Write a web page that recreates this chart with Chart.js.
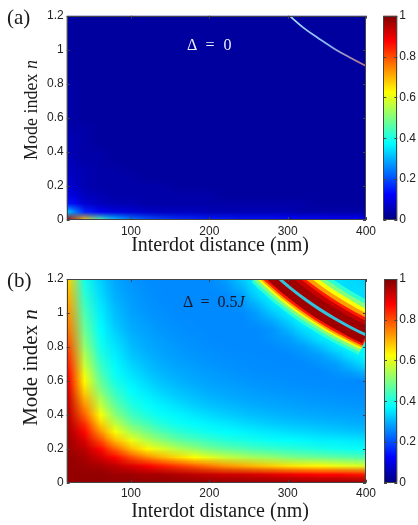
<!DOCTYPE html>
<html lang="en">
<head>
<meta charset="UTF-8">
<title>Mode index maps</title>
<script src="https://cdn.jsdelivr.net/npm/chart.js"></script>
<style>
  body { margin: 0; background: #fff; }
  #wrap { position: relative; width: 418px; height: 525px; overflow: hidden; }
  canvas { position: absolute; }
  .lbl {
    position: absolute;
    font-family: 'Liberation Serif', 'Times New Roman', serif;
    color: #1a1a1a;
    white-space: nowrap;
    line-height: 1;
  }
  .ylab { transform: rotate(-90deg); transform-origin: center center; text-align: center; }
</style>
</head>
<body>
<div id="wrap">
  <canvas id="mapA" width="380" height="245" style="left:0;top:0"></canvas>
  <canvas id="barA" width="43" height="245" style="left:375px;top:0"></canvas>
  <canvas id="mapB" width="380" height="245" style="left:0;top:262px"></canvas>
  <canvas id="barB" width="43" height="245" style="left:375px;top:262px"></canvas>

  <div class="lbl" style="left:7px;top:7px;font-size:21px">(a)</div>
  <div class="lbl" style="left:7px;top:270px;font-size:21px">(b)</div>
  <div class="lbl" style="left:187px;top:37px;font-size:16px;color:#eef0ff;word-spacing:5px">&Delta; = 0</div>
  <div class="lbl" style="left:183px;top:294px;font-size:16px;color:#161626;word-spacing:4px">&Delta; = 0.5<i>J</i></div>
  <div class="lbl" style="left:120px;width:200px;text-align:center;top:234px;font-size:20px">Interdot distance (nm)</div>
  <div class="lbl" style="left:120px;width:200px;text-align:center;top:500px;font-size:20px">Interdot distance (nm)</div>
  <div class="lbl ylab" style="left:-29px;width:120px;top:101px;font-size:18px">Mode index <i>n</i></div>
  <div class="lbl ylab" style="left:-40px;width:140px;top:357px;font-size:21px">Mode index <i>n</i></div>
</div>

<script>
// grid nodes of the two maps (cell centres)
const xNodes = [20, 40, 60, 80, 100, 120, 140, 160, 180, 200, 220, 240, 260, 280, 300, 320, 340, 360, 380, 400];
const nNodes = [0, 0.05, 0.1, 0.15, 0.2, 0.25, 0.3, 0.35, 0.4, 0.45, 0.5, 0.55, 0.6, 0.65, 0.7, 0.75, 0.8, 0.85, 0.9, 0.95, 1, 1.05, 1.1, 1.15, 1.2];

const xTicks = [100, 200, 300, 400];
const nTicks = [0, 0.2, 0.4, 0.6, 0.8, 1, 1.2];
const cbTicks = [0, 0.2, 0.4, 0.6, 0.8, 1];

// (a) Delta = 0, one row per n node, from n = 0 upwards
const mapA = [
  [0.95, 0.68, 0.45, 0.32, 0.25, 0.21, 0.19, 0.17, 0.16, 0.15, 0.15, 0.14, 0.14, 0.14, 0.13, 0.13, 0.13, 0.12, 0.12, 0.12],
  [0.3, 0.16, 0.11, 0.09, 0.08, 0.07, 0.06, 0.06, 0.06, 0.05, 0.05, 0.05, 0.05, 0.05, 0.05, 0.04, 0.04, 0.04, 0.04, 0.04],
  [0.14, 0.08, 0.06, 0.05, 0.05, 0.04, 0.04, 0.04, 0.04, 0.04, 0.04, 0.04, 0.04, 0.04, 0.04, 0.04, 0.03, 0.03, 0.03, 0.03],
  [0.1, 0.06, 0.05, 0.04, 0.04, 0.04, 0.04, 0.04, 0.04, 0.04, 0.03, 0.03, 0.03, 0.03, 0.03, 0.03, 0.03, 0.03, 0.03, 0.03],
  [0.08, 0.05, 0.04, 0.04, 0.04, 0.04, 0.04, 0.03, 0.03, 0.03, 0.03, 0.03, 0.03, 0.03, 0.03, 0.03, 0.03, 0.03, 0.03, 0.03],
  [0.07, 0.05, 0.04, 0.04, 0.04, 0.03, 0.03, 0.03, 0.03, 0.03, 0.03, 0.03, 0.03, 0.03, 0.03, 0.03, 0.03, 0.03, 0.03, 0.03],
  [0.06, 0.05, 0.04, 0.04, 0.03, 0.03, 0.03, 0.03, 0.03, 0.03, 0.03, 0.03, 0.03, 0.03, 0.03, 0.03, 0.03, 0.03, 0.03, 0.03],
  [0.06, 0.04, 0.04, 0.03, 0.03, 0.03, 0.03, 0.03, 0.03, 0.03, 0.03, 0.03, 0.03, 0.03, 0.03, 0.03, 0.03, 0.03, 0.03, 0.03],
  [0.05, 0.04, 0.04, 0.03, 0.03, 0.03, 0.03, 0.03, 0.03, 0.03, 0.03, 0.03, 0.03, 0.03, 0.03, 0.03, 0.03, 0.03, 0.03, 0.03],
  [0.05, 0.04, 0.03, 0.03, 0.03, 0.03, 0.03, 0.03, 0.03, 0.03, 0.03, 0.03, 0.03, 0.03, 0.03, 0.03, 0.03, 0.03, 0.03, 0.03],
  [0.05, 0.04, 0.03, 0.03, 0.03, 0.03, 0.03, 0.03, 0.03, 0.03, 0.03, 0.03, 0.03, 0.03, 0.03, 0.03, 0.03, 0.03, 0.03, 0.03],
  [0.04, 0.04, 0.03, 0.03, 0.03, 0.03, 0.03, 0.03, 0.03, 0.03, 0.03, 0.03, 0.03, 0.03, 0.03, 0.03, 0.03, 0.03, 0.03, 0.03],
  [0.04, 0.03, 0.03, 0.03, 0.03, 0.03, 0.03, 0.03, 0.03, 0.03, 0.03, 0.03, 0.03, 0.03, 0.03, 0.03, 0.03, 0.03, 0.03, 0.03],
  [0.04, 0.03, 0.03, 0.03, 0.03, 0.03, 0.03, 0.03, 0.03, 0.03, 0.03, 0.03, 0.03, 0.03, 0.03, 0.03, 0.03, 0.03, 0.03, 0.03],
  [0.04, 0.03, 0.03, 0.03, 0.03, 0.03, 0.03, 0.03, 0.03, 0.03, 0.03, 0.03, 0.03, 0.03, 0.03, 0.03, 0.03, 0.03, 0.03, 0.03],
  [0.04, 0.03, 0.03, 0.03, 0.03, 0.03, 0.03, 0.03, 0.03, 0.03, 0.03, 0.03, 0.03, 0.03, 0.03, 0.03, 0.03, 0.03, 0.03, 0.03],
  [0.04, 0.03, 0.03, 0.03, 0.03, 0.03, 0.03, 0.03, 0.03, 0.03, 0.03, 0.03, 0.03, 0.03, 0.03, 0.03, 0.03, 0.03, 0.03, 0.03],
  [0.03, 0.03, 0.03, 0.03, 0.03, 0.03, 0.03, 0.03, 0.03, 0.03, 0.03, 0.03, 0.03, 0.03, 0.03, 0.03, 0.03, 0.03, 0.03, 0.03],
  [0.03, 0.03, 0.03, 0.03, 0.03, 0.03, 0.03, 0.03, 0.03, 0.03, 0.03, 0.03, 0.03, 0.03, 0.03, 0.03, 0.03, 0.03, 0.03, 0.03],
  [0.03, 0.03, 0.03, 0.03, 0.03, 0.03, 0.03, 0.03, 0.03, 0.03, 0.03, 0.03, 0.03, 0.03, 0.03, 0.03, 0.03, 0.03, 0.03, 0.03],
  [0.03, 0.03, 0.03, 0.03, 0.03, 0.03, 0.03, 0.03, 0.03, 0.03, 0.03, 0.03, 0.03, 0.03, 0.03, 0.03, 0.03, 0.03, 0.03, 0.03],
  [0.03, 0.03, 0.03, 0.03, 0.03, 0.03, 0.03, 0.03, 0.03, 0.03, 0.03, 0.03, 0.03, 0.03, 0.03, 0.03, 0.03, 0.03, 0.03, 0.03],
  [0.03, 0.03, 0.03, 0.03, 0.03, 0.03, 0.03, 0.03, 0.03, 0.03, 0.03, 0.03, 0.03, 0.03, 0.03, 0.03, 0.03, 0.03, 0.03, 0.03],
  [0.03, 0.03, 0.03, 0.03, 0.03, 0.03, 0.03, 0.03, 0.03, 0.03, 0.03, 0.03, 0.03, 0.03, 0.03, 0.03, 0.03, 0.03, 0.03, 0.03],
  [0.03, 0.03, 0.03, 0.03, 0.03, 0.03, 0.03, 0.03, 0.03, 0.03, 0.03, 0.03, 0.03, 0.03, 0.03, 0.03, 0.03, 0.03, 0.03, 0.03]
];

// (b) Delta = 0.5J, background field (the resonance band is drawn from the curves below)
const mapB = [
  [0.98, 0.98, 0.98, 0.98, 0.98, 0.98, 0.98, 0.98, 0.98, 0.98, 0.98, 0.98, 0.98, 0.98, 0.98, 0.98, 0.98, 0.98, 0.98, 0.98],
  [0.98, 0.98, 0.98, 0.97, 0.97, 0.96, 0.96, 0.95, 0.94, 0.93, 0.92, 0.92, 0.91, 0.9, 0.89, 0.88, 0.87, 0.87, 0.86, 0.85],
  [0.98, 0.97, 0.96, 0.94, 0.91, 0.88, 0.85, 0.82, 0.79, 0.76, 0.73, 0.71, 0.69, 0.67, 0.65, 0.64, 0.63, 0.61, 0.6, 0.59],
  [0.98, 0.96, 0.92, 0.87, 0.8, 0.745, 0.7, 0.66, 0.625, 0.6, 0.57, 0.55, 0.535, 0.52, 0.5, 0.49, 0.48, 0.47, 0.46, 0.45],
  [0.97, 0.94, 0.87, 0.78, 0.69, 0.63, 0.59, 0.55, 0.52, 0.49, 0.47, 0.455, 0.44, 0.43, 0.42, 0.41, 0.4, 0.39, 0.385, 0.38],
  [0.97, 0.91, 0.8, 0.69, 0.61, 0.55, 0.51, 0.47, 0.45, 0.43, 0.41, 0.4, 0.39, 0.38, 0.375, 0.37, 0.36, 0.36, 0.355, 0.35],
  [0.96, 0.87, 0.73, 0.62, 0.54, 0.49, 0.45, 0.42, 0.4, 0.386, 0.375, 0.367, 0.359, 0.351, 0.344, 0.338, 0.331, 0.325, 0.319, 0.316],
  [0.95, 0.83, 0.67, 0.56, 0.48, 0.44, 0.405, 0.385, 0.372, 0.362, 0.352, 0.342, 0.333, 0.323, 0.317, 0.312, 0.307, 0.303, 0.298, 0.295],
  [0.94, 0.78, 0.62, 0.51, 0.44, 0.4, 0.38, 0.366, 0.353, 0.34, 0.328, 0.318, 0.311, 0.305, 0.298, 0.294, 0.291, 0.287, 0.285, 0.283],
  [0.93, 0.74, 0.575, 0.475, 0.41, 0.38, 0.363, 0.347, 0.331, 0.318, 0.31, 0.302, 0.295, 0.29, 0.286, 0.283, 0.28, 0.278, 0.275, 0.273],
  [0.92, 0.7, 0.54, 0.445, 0.39, 0.365, 0.346, 0.328, 0.314, 0.304, 0.295, 0.289, 0.285, 0.281, 0.278, 0.275, 0.272, 0.27, 0.268, 0.266],
  [0.9, 0.66, 0.5, 0.42, 0.373, 0.35, 0.328, 0.313, 0.301, 0.292, 0.286, 0.281, 0.277, 0.273, 0.27, 0.268, 0.266, 0.264, 0.263, 0.262],
  [0.88, 0.63, 0.475, 0.395, 0.36, 0.335, 0.314, 0.3, 0.29, 0.284, 0.279, 0.274, 0.27, 0.268, 0.265, 0.263, 0.262, 0.261, 0.261, 0.26],
  [0.86, 0.6, 0.45, 0.38, 0.347, 0.32, 0.303, 0.292, 0.284, 0.278, 0.272, 0.268, 0.265, 0.263, 0.262, 0.261, 0.26, 0.27, 0.28, 0.3],
  [0.84, 0.57, 0.43, 0.37, 0.333, 0.31, 0.294, 0.284, 0.278, 0.271, 0.268, 0.265, 0.262, 0.261, 0.26, 0.26, 0.27, 0.28, 0.31, 0.35],
  [0.82, 0.55, 0.41, 0.36, 0.32, 0.3, 0.287, 0.279, 0.272, 0.268, 0.264, 0.262, 0.261, 0.26, 0.26, 0.27, 0.28, 0.31, 0.35, 0.37],
  [0.8, 0.52, 0.395, 0.35, 0.311, 0.292, 0.283, 0.274, 0.268, 0.264, 0.261, 0.26, 0.26, 0.26, 0.27, 0.28, 0.31, 0.35, 0.37, 0.37],
  [0.78, 0.5, 0.385, 0.34, 0.303, 0.287, 0.278, 0.269, 0.265, 0.261, 0.26, 0.26, 0.26, 0.27, 0.28, 0.31, 0.35, 0.37, 0.37, 0.37],
  [0.76, 0.48, 0.375, 0.328, 0.295, 0.283, 0.272, 0.267, 0.262, 0.26, 0.26, 0.26, 0.26, 0.27, 0.3, 0.34, 0.37, 0.37, 0.37, 0.37],
  [0.745, 0.465, 0.367, 0.318, 0.29, 0.278, 0.268, 0.263, 0.261, 0.26, 0.26, 0.26, 0.27, 0.29, 0.33, 0.37, 0.37, 0.37, 0.37, 0.37],
  [0.73, 0.45, 0.36, 0.311, 0.285, 0.273, 0.266, 0.261, 0.26, 0.26, 0.26, 0.26, 0.28, 0.32, 0.36, 0.37, 0.37, 0.37, 0.37, 0.36],
  [0.715, 0.435, 0.352, 0.305, 0.281, 0.269, 0.263, 0.26, 0.26, 0.26, 0.26, 0.27, 0.3, 0.35, 0.37, 0.37, 0.37, 0.37, 0.36, 0.35],
  [0.7, 0.42, 0.343, 0.298, 0.278, 0.267, 0.261, 0.26, 0.26, 0.26, 0.26, 0.28, 0.33, 0.37, 0.37, 0.37, 0.37, 0.36, 0.35, 0.34],
  [0.685, 0.405, 0.336, 0.293, 0.274, 0.265, 0.261, 0.26, 0.26, 0.26, 0.27, 0.3, 0.35, 0.37, 0.37, 0.37, 0.36, 0.35, 0.34, 0.34],
  [0.67, 0.395, 0.328, 0.289, 0.27, 0.263, 0.26, 0.26, 0.26, 0.26, 0.28, 0.32, 0.36, 0.37, 0.37, 0.37, 0.36, 0.35, 0.34, 0.33]
];

// thin resonance curve of (a)
const ringAx = [295, 300, 320, 340, 360, 380, 400, 410];
const ringAn = [1.23, 1.21, 1.13, 1.065, 1.005, 0.953, 0.905, 0.883];

// (b): thin cyan resonance line, and the curves the red shoulders are centred on
const ringBx = [270, 280, 290, 300, 320, 340, 360, 380, 400, 420];
const ringBn = [1.289, 1.243, 1.2, 1.16, 1.088, 1.024, 0.967, 0.916, 0.87, 0.829];
const upperBx = [280, 290, 300, 320, 340, 360, 380, 400, 420];
const upperBn = [1.314, 1.269, 1.227, 1.15, 1.082, 1.022, 0.968, 0.92, 0.876];
const lowerBx = [270, 280, 300, 320, 340, 360, 380, 400, 420];
const lowerBn = [1.259, 1.214, 1.133, 1.0625, 1.0, 0.944, 0.895, 0.85, 0.81];
// shoulder profiles: value and full stroke width (px), outer to inner
const coreVal = 0.97, coreWidth = 18;
const upperVals = [0.42, 0.5, 0.62, 0.72, 0.85, 0.93];
const upperWidths = [48, 40, 32, 24, 16, 10];
const lowerVals = [0.42, 0.5, 0.62, 0.72, 0.85];
const lowerWidths = [36, 30, 24, 20, 16];

// MATLAB-like jet colormap
function jet(v) {
  const c = t => Math.round(255 * Math.max(0, Math.min(1, 1.5 - Math.abs(4 * v - t))));
  return [c(3), c(2), c(1)];
}
function jetCss(v) {
  const [r, g, b] = jet(v);
  return 'rgb(' + r + ',' + g + ',' + b + ')';
}

const tickFont = { family: "'Liberation Sans', Arial, sans-serif", size: 12 };
const tickColor = '#222';
const plainLabel = v => String(v);

// paints the value grid as an image placed through the x/y scales
const heatPlugin = {
  id: 'heat',
  beforeDatasetsDraw(chart, args, opts) {
    const grid = opts.grid;
    const rows = grid.length, cols = grid[0].length;
    const off = document.createElement('canvas');
    off.width = cols;
    off.height = rows;
    const octx = off.getContext('2d');
    const img = octx.createImageData(cols, rows);
    for (let r = 0; r < rows; r++) {
      for (let c = 0; c < cols; c++) {
        const [R, G, B] = jet(grid[r][c]);
        const i = ((rows - 1 - r) * cols + c) * 4;
        img.data[i] = R; img.data[i + 1] = G; img.data[i + 2] = B; img.data[i + 3] = 255;
      }
    }
    octx.putImageData(img, 0, 0);

    const x = chart.scales.x, y = chart.scales.y;
    const hx = (xNodes[1] - xNodes[0]) / 2, hn = (nNodes[1] - nNodes[0]) / 2;
    const l = x.getPixelForValue(xNodes[0] - hx);
    const r = x.getPixelForValue(xNodes[cols - 1] + hx);
    const t = y.getPixelForValue(nNodes[rows - 1] + hn);
    const b = y.getPixelForValue(nNodes[0] - hn);
    const a = chart.chartArea, ctx = chart.ctx;
    ctx.save();
    ctx.beginPath();
    ctx.rect(a.left, a.top, a.width, a.height);
    ctx.clip();
    ctx.imageSmoothingEnabled = true;
    ctx.drawImage(off, l, t, r - l, b - t);
    ctx.restore();
  }
};

// colorbar gradient between 0 and 1 on the bar's y scale
const cbarPlugin = {
  id: 'cbar',
  beforeDatasetsDraw(chart) {
    const y = chart.scales.y, a = chart.chartArea, ctx = chart.ctx;
    const y0 = y.getPixelForValue(0), y1 = y.getPixelForValue(1);
    const g = ctx.createLinearGradient(0, y0, 0, y1);
    for (let i = 0; i <= 64; i++) g.addColorStop(i / 64, jetCss(i / 64));
    ctx.fillStyle = g;
    ctx.fillRect(a.left, y1, a.width, y0 - y1);
  }
};

// box round the plot and short inward ticks, MATLAB style
const framePlugin = {
  id: 'frame',
  afterDraw(chart) {
    const ctx = chart.ctx, a = chart.chartArea;
    ctx.save();
    ctx.strokeStyle = '#444';
    ctx.lineWidth = 1;
    ctx.strokeRect(Math.round(a.left) + 0.5, Math.round(a.top) + 0.5, Math.round(a.width) - 1, Math.round(a.height) - 1);
    const len = 3;
    ctx.beginPath();
    const x = chart.scales.x;
    if (x && x.options.display) {
      x.ticks.forEach(t => {
        const px = Math.round(x.getPixelForValue(t.value)) + 0.5;
        ctx.moveTo(px, a.bottom); ctx.lineTo(px, a.bottom - len);
        ctx.moveTo(px, a.top); ctx.lineTo(px, a.top + len);
      });
    }
    const y = chart.scales.y;
    y.ticks.forEach(t => {
      const py = Math.round(y.getPixelForValue(t.value)) + 0.5;
      ctx.moveTo(a.left, py); ctx.lineTo(a.left + len, py);
      ctx.moveTo(a.right, py); ctx.lineTo(a.right - len, py);
    });
    ctx.stroke();
    ctx.restore();
  }
};

function mapChart(id, grid, datasets, padTop, axisH) {
  return new Chart(document.getElementById(id), {
    type: 'scatter',
    data: { datasets: datasets },
    options: {
      responsive: false,
      animation: false,
      devicePixelRatio: 1,
      layout: { padding: { top: padTop, right: 6.7, left: 0, bottom: 0 } },
      plugins: { legend: { display: false }, tooltip: { enabled: false }, heat: { grid: grid } },
      elements: { point: { radius: 0 } },
      scales: {
        x: {
          type: 'linear', min: 18, max: 400,
          afterBuildTicks: s => { s.ticks = xTicks.map(v => ({ value: v })); },
          ticks: { font: tickFont, color: tickColor, padding: 4, maxRotation: 0, callback: plainLabel },
          grid: { display: false, drawTicks: false },
          border: { display: false },
          afterFit: s => { s.height = axisH; }
        },
        y: {
          type: 'linear', min: 0, max: 1.2,
          afterBuildTicks: s => { s.ticks = nTicks.map(v => ({ value: v })); },
          ticks: { font: tickFont, color: tickColor, padding: 3, callback: plainLabel },
          grid: { display: false, drawTicks: false },
          border: { display: false },
          afterFit: s => { s.width = 66.7; }
        }
      }
    },
    plugins: [heatPlugin, framePlugin]
  });
}

function barChart(id, padTop, padLeft, padBottom) {
  return new Chart(document.getElementById(id), {
    type: 'scatter',
    data: { datasets: [{ data: [] }] },
    options: {
      responsive: false,
      animation: false,
      devicePixelRatio: 1,
      layout: { padding: { top: padTop, left: padLeft, right: 0, bottom: padBottom } },
      plugins: { legend: { display: false }, tooltip: { enabled: false } },
      scales: {
        x: { display: false, min: 0, max: 1 },
        y: {
          position: 'right', min: 0, max: 1,
          afterBuildTicks: s => { s.ticks = cbTicks.map(v => ({ value: v })); },
          ticks: { font: tickFont, color: tickColor, padding: 2, callback: plainLabel },
          grid: { display: false, drawTicks: false },
          border: { display: false },
          afterFit: s => { s.width = 20.7; }
        }
      }
    },
    plugins: [cbarPlugin, framePlugin]
  });
}

const ringAColor = ctx => {
  const c = ctx.chart;
  if (!c.chartArea) return '#8fc4ff';
  const g = c.ctx.createLinearGradient(c.scales.x.getPixelForValue(300), 0, c.scales.x.getPixelForValue(400), 0);
  g.addColorStop(0, '#a8dcff');
  g.addColorStop(0.5, '#86b8f0');
  g.addColorStop(1, '#c07088');
  return g;
};

const toPoints = (xs, ns) => xs.map((x, i) => ({ x: x, y: ns[i] }));

// higher value strokes get a lower order so they are painted on top
function ringLine(points, color, width, order) {
  return { data: points, showLine: true, borderColor: color, borderWidth: width, pointRadius: 0,
           tension: 0.4, clip: 0, borderCapStyle: 'butt', order: order };
}

mapChart('mapA', mapA, [ringLine(toPoints(ringAx, ringAn), ringAColor, 1.8, 0)], 15.7, 25);

const ringPts = toPoints(ringBx, ringBn);
const bandSets = []
  .concat(upperVals.map((v, i) => ringLine(toPoints(upperBx, upperBn), jetCss(v), upperWidths[i], -v * 100)))
  .concat(lowerVals.map((v, i) => ringLine(toPoints(lowerBx, lowerBn), jetCss(v), lowerWidths[i], -v * 100)))
  .concat([ringLine(ringPts, jetCss(coreVal), coreWidth, -coreVal * 100)])
  .concat([ringLine(ringPts, '#33c2da', 3, -1000)]);
mapChart('mapB', mapB, bandSets, 17, 24.3);

barChart('barA', 15.7, 8.3, 25);
barChart('barB', 17, 9, 24.3);
</script>
</body>
</html>
